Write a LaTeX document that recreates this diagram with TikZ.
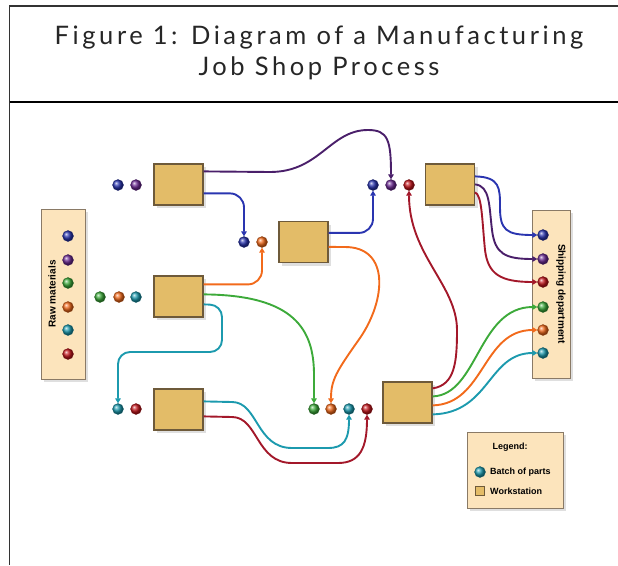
\documentclass[tikz,border=0pt]{standalone}
\usepackage{fontspec}
\setmainfont{Liberation Sans}
\newfontfamily\titlefont[LetterSpace=14]{Lato}
\usetikzlibrary{shadows,arrows.meta,calc}
\definecolor{wsfill}{HTML}{E3BC68}
\definecolor{wsdraw}{HTML}{6E5A3A}
\definecolor{boxfill}{HTML}{FCE4BC}
\definecolor{boxdraw}{HTML}{8A7A66}
\definecolor{cblue}{HTML}{2A35B0}
\definecolor{cpurple}{HTML}{6B2A92}
\definecolor{cdpurple}{HTML}{4A1F6A}
\definecolor{cgreen}{HTML}{3DAA3A}
\definecolor{corange}{HTML}{F26A1B}
\definecolor{cteal}{HTML}{1C9AAE}
\definecolor{cred}{HTML}{C3161C}
\definecolor{cdred}{HTML}{A3182A}
\tikzset{
  shad/.style={drop shadow={shadow xshift=3pt,shadow yshift=-3pt,opacity=0.25,fill=gray}},
  ws/.style={draw=wsdraw,line width=1.2pt,fill=wsfill,minimum width=49pt,minimum height=41pt,inner sep=0pt,shad},
  panel/.style={draw=boxdraw,line width=1pt,fill=boxfill,inner sep=0pt,shad},
  batch/.style={circle,inner sep=0pt,minimum size=11pt,ball color=#1,draw=#1!60!black,line width=0.3pt},
  conn/.style={line width=1.9pt,-{Triangle[length=5pt,width=5.5pt]}},
  lbl/.style={font=\bfseries\fontsize{10}{10}\selectfont,inner sep=0pt},
  leglbl/.style={font=\bfseries\fontsize{9}{9}\selectfont,inner sep=0pt},
}
\begin{document}
\begin{tikzpicture}[x=1pt,y=-1pt]
\useasboundingbox (0,0) rectangle (618,565);
% frame
\draw[line width=1.3pt,black!80] (618,6) -- (9.5,6) -- (9.5,565);
\draw[line width=2.6pt] (9.5,102) -- (618,102);
\node[font=\titlefont\fontsize{25.5}{31}\selectfont,align=center,text=black!85] (title) at (319,53) {Figure 1: Diagram of a Manufacturing\\Job Shop Process};

% panels
\node[panel,minimum width=44pt,minimum height=170pt] (raw) at (63,294) {};
\node[lbl,rotate=90] (rawlbl) at (52,294) {Raw materials};
\node[panel,minimum width=38pt,minimum height=168pt] (ship) at (551,294) {};
\node[lbl,rotate=-90] (shiplbl) at (561,294) {Shipping department};
\node[panel,minimum width=96pt,minimum height=76pt] (legend) at (515,470) {};

% raw material dots
\node[batch=cblue] (r1) at (68,236) {};
\node[batch=cpurple] (r2) at (68,260) {};
\node[batch=cgreen] (r3) at (68,283) {};
\node[batch=corange] (r4) at (68,307) {};
\node[batch=cteal] (r5) at (68,330) {};
\node[batch=cred] (r6) at (68,354) {};

% workstations
\node[ws] (w1) at (178.5,184.5) {};
\node[ws] (w2) at (303.5,242) {};
\node[ws] (w3) at (178.5,296.5) {};
\node[ws] (w4) at (178.5,409.5) {};
\node[ws] (w5) at (450,184.5) {};
\node[ws] (w6) at (407.5,402.5) {};

% batches
\node[batch=cblue] (q1) at (118,185) {};
\node[batch=cpurple] (q2) at (136,185) {};
\node[batch=cgreen] (q3) at (100,297) {};
\node[batch=corange] (q4) at (119,297) {};
\node[batch=cteal] (q5) at (136,297) {};
\node[batch=cteal] (q6) at (118,409) {};
\node[batch=cred] (q7) at (136,409) {};
\node[batch=cblue] (m1) at (244,242) {};
\node[batch=corange] (m2) at (262,242) {};
\node[batch=cblue] (t1) at (373,185) {};
\node[batch=cpurple] (t2) at (391,185) {};
\node[batch=cred] (t3) at (409,185) {};
\node[batch=cgreen] (b1) at (314,409) {};
\node[batch=corange] (b2) at (331,409) {};
\node[batch=cteal] (b3) at (349,409) {};
\node[batch=cred] (b4) at (367,409) {};
% shipping dots
\node[batch=cblue] (s1) at (543,235) {};
\node[batch=cpurple] (s2) at (543,259) {};
\node[batch=cred] (s3) at (543,282) {};
\node[batch=cgreen] (s4) at (543,307) {};
\node[batch=corange] (s5) at (543,330) {};
\node[batch=cteal] (s6) at (543,353) {};

% connectors
\draw[conn,cdpurple] ($(w1.north east)+(0,8)$) -- (270,172) .. controls (320,172) and (330,130) .. (368,130) .. controls (388,130) and (391,140) .. (t2.north);
\draw[conn,cblue,rounded corners=14pt] ($(w1.north east)+(0,30)$) -| (m1.north);
\draw[conn,corange,rounded corners=14pt] ($(w3.north east)+(0,9)$) -| (m2.south);
\draw[conn,cgreen] ($(w3.north east)+(0,19)$) .. controls (295,295) and (314,330) .. (314,375) -- (b1.north);
\draw[conn,cteal,rounded corners=12pt] ($(w3.north east)+(0,29)$) -- (222,305) -- (222,352) -- (118,352) -- (q6.north);
\draw[conn,cteal] ($(w4.north east)+(0,13)$) -- (232,402) .. controls (258,402) and (256,448) .. (292,448) -- (328,448) .. controls (344,448) and (349,440) .. (b3.south);
\draw[conn,cdred] ($(w4.north east)+(0,28)$) -- (232,417) .. controls (258,417) and (256,463) .. (292,463) -- (338,463) .. controls (360,463) and (367,448) .. (b4.south);
\draw[conn,cblue,rounded corners=14pt] ($(w2.north east)+(0,12)$) -| (t1.south);
\draw[conn,corange] ($(w2.north east)+(0,26)$) -- (345,247) .. controls (390,247) and (386,300) .. (360,338) .. controls (336,372) and (331,380) .. (b2.north);
\draw[conn,cdred] ($(w6.north east)+(0,7)$) .. controls (455,385) and (457,362) .. (457,330) .. controls (457,285) and (409,255) .. (t3.south);
\draw[conn,cgreen] ($(w6.north east)+(0,15)$) .. controls (478,395) and (478,307) .. (s4.west);
\draw[conn,corange] ($(w6.north east)+(0,24)$) .. controls (485,404) and (482,330) .. (s5.west);
\draw[conn,cteal] ($(w6.north east)+(0,33)$) .. controls (490,413) and (488,353) .. (s6.west);
\draw[conn,cblue] ($(w5.north east)+(0,13)$) .. controls (500,177) and (500,188) .. (500,207) .. controls (500,230) and (506,235) .. (s1.west);
\draw[conn,cdpurple] ($(w5.north east)+(0,21)$) .. controls (490,186) and (489,205) .. (492,230) .. controls (495,254) and (505,259) .. (s2.west);
\draw[conn,cdred] ($(w5.north east)+(0,29)$) .. controls (482,195) and (482,220) .. (485,250) .. controls (488,274) and (500,282) .. (s3.west);

% legend
\node[leglbl] (legtitle) at (510,447) {Legend:};
\node[batch=cteal] (legdot) at (480,472) {};
\node[leglbl,anchor=west] (legdottxt) at (490,472) {Batch of parts};
\node[draw=wsdraw,fill=wsfill,line width=0.8pt,minimum size=9pt,inner sep=0pt] (legws) at (480,491) {};
\node[leglbl,anchor=west] (legwstxt) at (490,491) {Workstation};
\end{tikzpicture}
\end{document}
